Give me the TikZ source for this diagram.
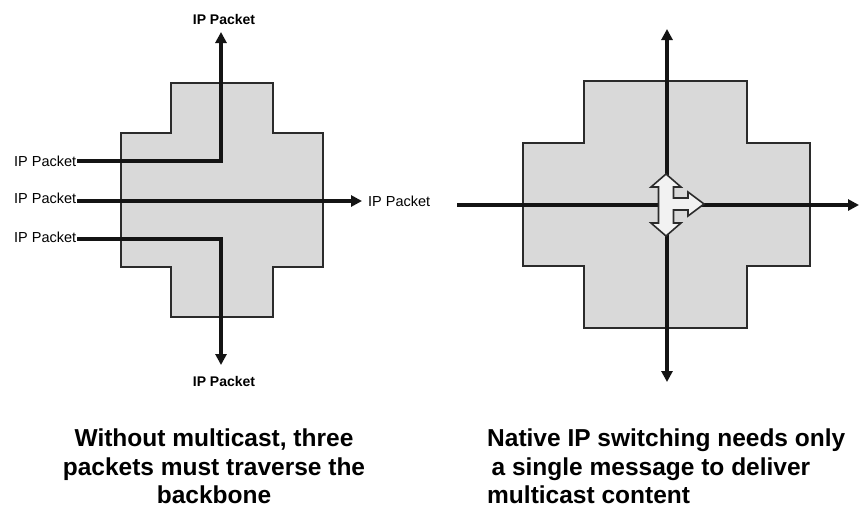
\documentclass[tikz,border=0pt]{standalone}
\usepackage{fontspec}
\setmainfont{Liberation Sans}
\usetikzlibrary{arrows.meta}
\definecolor{crossfill}{HTML}{D9D9D9}
\definecolor{crossline}{HTML}{2B2B2B}
\definecolor{blockfill}{HTML}{F2F2F2}
\tikzset{
  cross/.style={fill=crossfill, draw=crossline, line width=1.6pt},
  flow/.style={line width=3.6pt, draw=black!92, -{Triangle[length=11pt,width=11pt]}},
  pkt/.style={font=\fontsize{14.5}{16}\selectfont, inner sep=0pt},
  pktb/.style={font=\fontsize{14}{16}\selectfont\bfseries, inner sep=0pt},
  caption/.style={font=\fontsize{24.5}{28.5}\selectfont\bfseries, inner sep=0pt},
  blockarrow/.style={fill=blockfill, draw=crossline, line width=1.6pt, line join=miter}
}
\begin{document}
\begin{tikzpicture}[x=1pt,y=-1pt]
\useasboundingbox (0,0) rectangle (859,512);
\fill[white] (0,0) rectangle (859,512);

% ---------- left cross ----------
\draw[cross] (171,83) -- (273,83) -- (273,133) -- (323,133) -- (323,267) -- (273,267)
  -- (273,317) -- (171,317) -- (171,267) -- (121,267) -- (121,133) -- (171,133) -- cycle;

\node[pkt, anchor=west] (l1) at (14,161) {IP Packet};
\node[pkt, anchor=west] (l2) at (14,198) {IP Packet};
\node[pkt, anchor=west] (l3) at (14,237) {IP Packet};
\node[pktb] (top) at (224,19) {IP Packet};
\node[pktb] (bot) at (224,381) {IP Packet};
\node[pkt, anchor=west] (rgt) at (368,201) {IP Packet};

\coordinate (s1) at (77,161);
\coordinate (s2) at (77,201);
\coordinate (s3) at (77,239);
\coordinate (t1) at (221,32);
\coordinate (t3) at (221,365);
\coordinate (t2) at (362,201);

\draw[flow] (s1) -| (t1);
\draw[flow] (s2) -- (t2);
\draw[flow] (s3) -| (t3);

% ---------- right cross ----------
\draw[cross] (584,81) -- (747,81) -- (747,143) -- (810,143) -- (810,266) -- (747,266)
  -- (747,328) -- (584,328) -- (584,266) -- (523,266) -- (523,143) -- (584,143) -- cycle;

\coordinate (vt) at (667,29);
\coordinate (vb) at (667,382);
\coordinate (hl) at (457,205);
\coordinate (hr) at (859,205);
\coordinate (vm) at (667,205);

\draw[flow] (vm) -- (vt);
\draw[flow] (vm) -- (vb);
\draw[flow] (hl) -- (hr);

\draw[blockarrow] (666,174) -- (681,187) -- (673.5,187) -- (673.5,198) -- (688,198)
  -- (688,192) -- (704,204) -- (688,216) -- (688,210) -- (673.5,210) -- (673.5,223)
  -- (681,223) -- (666,236) -- (651,223) -- (658.5,223) -- (658.5,187) -- (651,187) -- cycle;

% ---------- captions ----------
\node[caption, align=center, anchor=north] (capl) at (214,429)
  {Without multicast, three\\packets must traverse the\\backbone};
\node[caption, align=left, anchor=north west] (capr) at (487,429)
  {Native IP switching needs only\\\hspace{0.18em}a single message to deliver\\multicast content};
\end{tikzpicture}
\end{document}
